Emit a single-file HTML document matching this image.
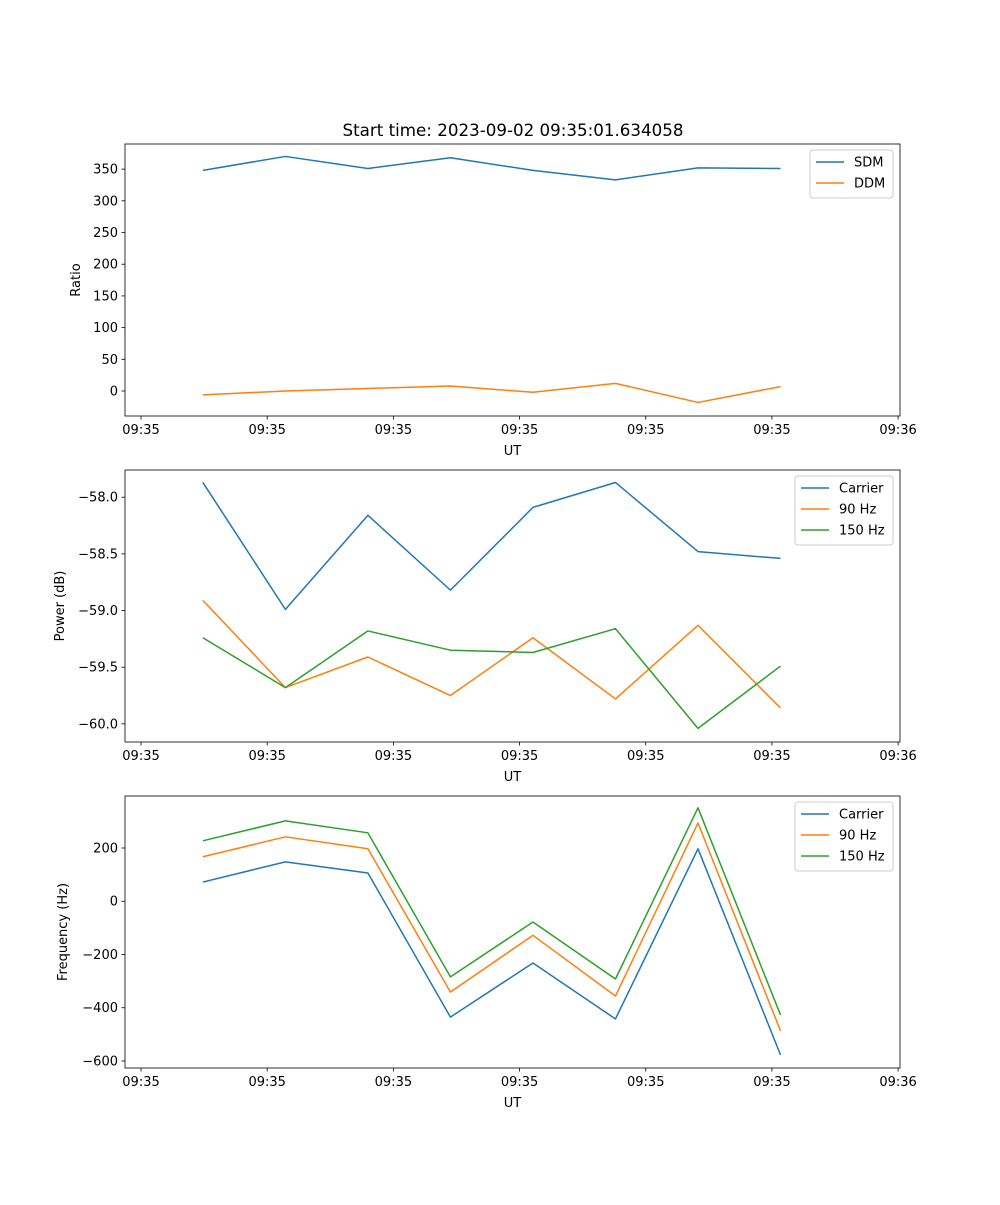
<!DOCTYPE html>
<html><head><meta charset="utf-8"><style>
body{margin:0;background:#fff}
svg text{font-family:"DejaVu Sans","Liberation Sans",sans-serif;fill:#000}
</style></head><body>
<svg id="fig" width="1000" height="1200" xmlns="http://www.w3.org/2000/svg">
<rect width="1000" height="1200" fill="#fff"/>
<text x="513" y="136" font-size="16.7" text-anchor="middle">Start time: 2023-09-02 09:35:01.634058</text>
</svg>
<script>
// x values: seconds offset
const timeSec = [4.9, 11.44, 17.98, 24.52, 31.06, 37.6, 44.14, 50.68];
const xTicks = [0, 10, 20, 30, 40, 50, 60];
const xTickLabels = ["09:35","09:35","09:35","09:35","09:35","09:35","09:36"];
const sdm = [348, 370, 351, 368, 348, 333, 352, 351];
const ddm = [-6, 0, 4, 8, -2, 12, -18, 7];
const pwrCarrier = [-57.87, -58.99, -58.16, -58.82, -58.09, -57.87, -58.48, -58.54];
const pwr90 = [-58.91, -59.68, -59.41, -59.75, -59.24, -59.78, -59.13, -59.86];
const pwr150 = [-59.24, -59.68, -59.18, -59.35, -59.37, -59.16, -60.04, -59.49];
const frqCarrier = [72, 148, 106, -435, -232, -442, 197, -577];
const frq90 = [167, 242, 197, -341, -128, -356, 294, -487];
const frq150 = [227, 302, 257, -284, -78, -292, 351, -427];
const ratioTicks = [0, 50, 100, 150, 200, 250, 300, 350];
const powerTicks = [-60.0, -59.5, -59.0, -58.5, -58.0];
const freqTicks = [-600, -400, -200, 0, 200];

const NS = "http://www.w3.org/2000/svg";
const svg = document.getElementById('fig');
const L = 125, R = 900;
const xDom = [-1.27, 60.15];
function X(v){ return L + (v - xDom[0]) / (xDom[1] - xDom[0]) * (R - L); }
function mk(tag, attrs, parent){ const e = document.createElementNS(NS, tag); for (const k in attrs) e.setAttribute(k, attrs[k]); (parent||svg).appendChild(e); return e; }

const C = {blue:"#1f77b4", orange:"#ff7f0e", green:"#2ca02c"};

function panel(name, top, bot, yDom, yTicks, fmt, ylabel, series, legend){
  const g = mk('g', {});
  
  
  const Y = v => bot - (v - yDom[0]) / (yDom[1] - yDom[0]) * (bot - top);
  series.forEach(s => {
    const p = mk('polyline', {points: timeSec.map((t,i)=>X(t).toFixed(2)+','+Y(s.data[i]).toFixed(2)).join(' '), fill:'none', stroke:s.color, 'stroke-width':1.5, 'stroke-linejoin':'round'}, g);
    
    
  });
  const frame = mk('rect', {x:L, y:top, width:R-L, height:bot-top, fill:'none', stroke:'#000', 'stroke-width':0.8}, g);
  
  
  xTicks.forEach((t,i) => {
    const x = X(t);
    mk('line', {x1:x, x2:x, y1:bot, y2:bot+3.5, stroke:'#000', 'stroke-width':0.8}, g);
    const tx = mk('text', {x:x, y:bot+18, 'font-size':13, 'text-anchor':'middle'}, g);
    tx.textContent = xTickLabels[i];
    
    
  });
  const xl = mk('text', {x:(L+R)/2, y:bot+39, 'font-size':13, 'text-anchor':'middle'}, g);
  xl.textContent = 'UT';
  
  
  yTicks.forEach(t => {
    const y = Y(t);
    mk('line', {x1:L-3.5, x2:L, y1:y, y2:y, stroke:'#000', 'stroke-width':0.8}, g);
    const tx = mk('text', {x:L-7, y:y+4.5, 'font-size':13, 'text-anchor':'end'}, g);
    tx.textContent = fmt(t);
    
    
  });
  const yl = mk('text', {x:0, y:0, 'font-size':13, 'text-anchor':'middle', transform:`translate(${legend.ylx},${(top+bot)/2}) rotate(-90)`}, g);
  yl.textContent = ylabel;
  
  
  const lg = mk('g', {}, g);
  
  
  mk('rect', {x:legend.x, y:top+6, width:legend.w, height:series.length*21+6, rx:3, fill:'#fff', 'fill-opacity':0.8, stroke:'#ccc', 'stroke-width':1}, lg);
  series.forEach((s,i) => {
    const y = top + 18 + i*21;
    mk('line', {x1:legend.x+6, x2:legend.x+34, y1:y, y2:y, stroke:s.color, 'stroke-width':1.5}, lg);
    const t = mk('text', {x:legend.x+44, y:y+4.5, 'font-size':13}, lg);
    t.textContent = s.label;
    
    
  });
}

panel('ratio', 144, 416, [-39.4, 389.6], ratioTicks, v=>String(v), 'Ratio',
  [{key:'sdm', label:'SDM', color:C.blue, data:sdm},{key:'ddm', label:'DDM', color:C.orange, data:ddm}],
  {x:810, w:83, ylx:80});
panel('power', 470, 742, [-60.16, -57.76], powerTicks, v=>v.toFixed(1).replace('-','\u2212'), 'Power (dB)',
  [{key:'carrier', label:'Carrier', color:C.blue, data:pwrCarrier},{key:'90hz', label:'90 Hz', color:C.orange, data:pwr90},{key:'150hz', label:'150 Hz', color:C.green, data:pwr150}],
  {x:795, w:98, ylx:64});
panel('frequency', 796, 1068, [-626.3, 395.3], freqTicks, v=>String(v).replace('-','\u2212'), 'Frequency (Hz)',
  [{key:'carrier', label:'Carrier', color:C.blue, data:frqCarrier},{key:'90hz', label:'90 Hz', color:C.orange, data:frq90},{key:'150hz', label:'150 Hz', color:C.green, data:frq150}],
  {x:795, w:98, ylx:67});
</script>
</body></html>
